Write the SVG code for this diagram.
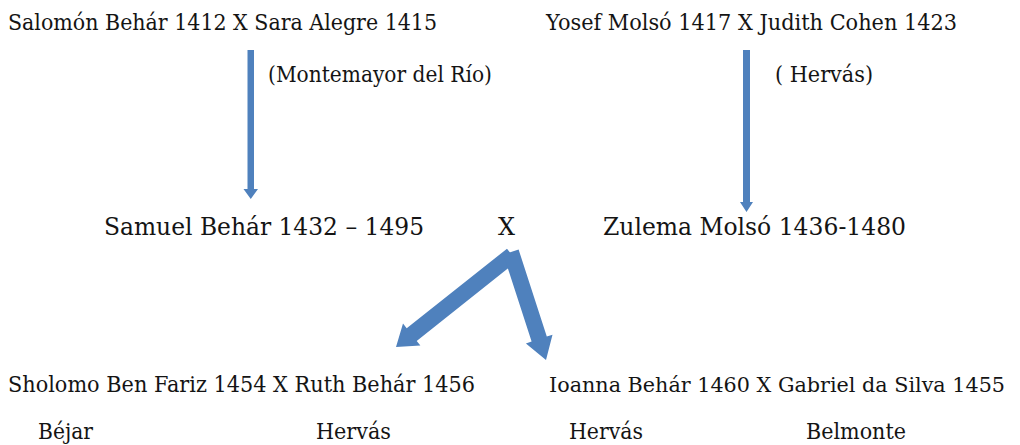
<svg xmlns="http://www.w3.org/2000/svg" width="1020" height="445" viewBox="0 0 1020 445">
<style>
text{font-family:"DejaVu Serif","Liberation Serif",serif;fill:#141414}
.a{font-size:21.5px}
.m{font-size:24px}
.arr{fill:#4F81BD}
</style>
<rect width="1020" height="445" fill="#fff"/>
<g id="connectors">
<polygon class="arr" points="247.5,50 254,50 254,189 258,189 250.75,199 243.5,189 247.5,189"/>
<polygon class="arr" points="743,50 750,50 750,202 753,202 746.5,212 740,202 743,202"/>
<polygon class="arr" points="507,248.7 406.7,328.3 403,323.6 396,347 420.4,345.6 416.7,340.9 517,261.3"/>
<polygon class="arr" points="503.4,254.5 518.6,249.5 546.8,336.6 552.5,334.8 546,360 525.9,343.4 531.6,341.6"/>
</g>
<g id="n-salomon"><text class="a" x="8" y="30" textLength="429" lengthAdjust="spacingAndGlyphs">Salomón Behár 1412 X Sara Alegre 1415</text></g>
<g id="n-yosef"><text class="a" x="546" y="30" textLength="411" lengthAdjust="spacingAndGlyphs">Yosef Molsó 1417 X Judith Cohen 1423</text></g>
<g id="n-montemayor"><text class="a" x="268" y="82" textLength="224" lengthAdjust="spacingAndGlyphs">(Montemayor del Río)</text></g>
<g id="n-hervas-top"><text class="a" x="775" y="82" textLength="98" lengthAdjust="spacingAndGlyphs">( Hervás)</text></g>
<g id="n-samuel"><text class="m" x="104" y="235" textLength="320" lengthAdjust="spacingAndGlyphs">Samuel Behár 1432 – 1495</text></g>
<g id="n-x"><text class="m" x="498" y="235" textLength="17" lengthAdjust="spacingAndGlyphs">X</text></g>
<g id="n-zulema"><text class="m" x="603" y="235" textLength="303" lengthAdjust="spacingAndGlyphs">Zulema Molsó 1436-1480</text></g>
<g id="n-sholomo"><text class="a" x="8" y="392" textLength="467" lengthAdjust="spacingAndGlyphs">Sholomo Ben Fariz 1454 X Ruth Behár 1456</text></g>
<g id="n-ioanna"><text style="font-size:20px" x="549" y="392" textLength="456" lengthAdjust="spacingAndGlyphs">Ioanna Behár 1460 X Gabriel da Silva 1455</text></g>
<g id="n-places">
<text class="a" x="38" y="439" textLength="55" lengthAdjust="spacingAndGlyphs">Béjar</text>
<text class="a" x="316" y="439" textLength="75" lengthAdjust="spacingAndGlyphs">Hervás</text>
<text class="a" x="569" y="439" textLength="74" lengthAdjust="spacingAndGlyphs">Hervás</text>
<text class="a" x="806" y="439" textLength="100" lengthAdjust="spacingAndGlyphs">Belmonte</text>
</g>
</svg>
